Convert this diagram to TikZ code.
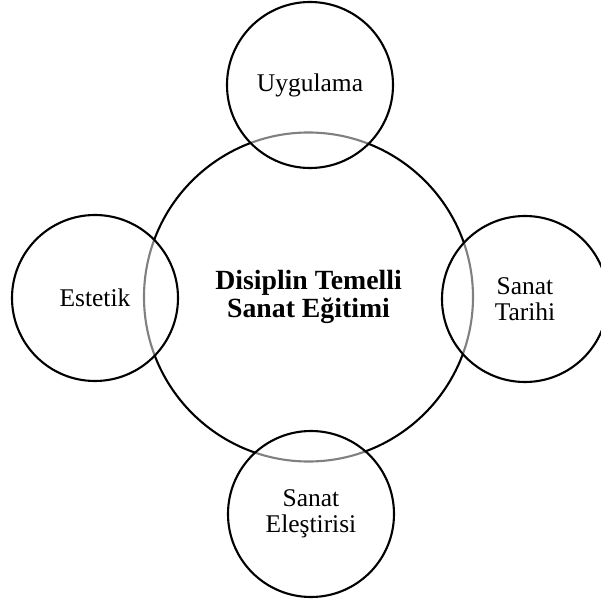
\documentclass[tikz,border=0pt]{standalone}
\usepackage{fontspec}
\setmainfont{Liberation Serif}
\usepackage{tikz}

\begin{document}
\begin{tikzpicture}[
            every node/.style={circle, draw=black, line width=1.2pt, align=center,
                font=\fontsize{14.5}{14.6}\selectfont},
            ana/.style={minimum size=6.58cm,
                font=\fontsize{15.8}{16.2}\selectfont\bfseries},
            alan/.style={minimum size=3.32cm, fill=white, fill opacity=.5,
                text opacity=1}]
            \useasboundingbox (0,0) rectangle (12.02,12.06);

            \node[ana] (dtse) at (6.17,6.12) {Disiplin Temelli\\Sanat Eğitimi};

            % dort alan
            \node[alan] (uyg) at (6.20,10.36) {Uygulama};
            \node[alan] (est) at (1.90,6.10) {Estetik};
            \node[alan] (tar) at (10.50,6.08) {Sanat\\Tarihi};
            \node[alan] (ele) at (6.22,1.78) {Sanat\\Eleştirisi};

        \end{tikzpicture}
\end{document}
